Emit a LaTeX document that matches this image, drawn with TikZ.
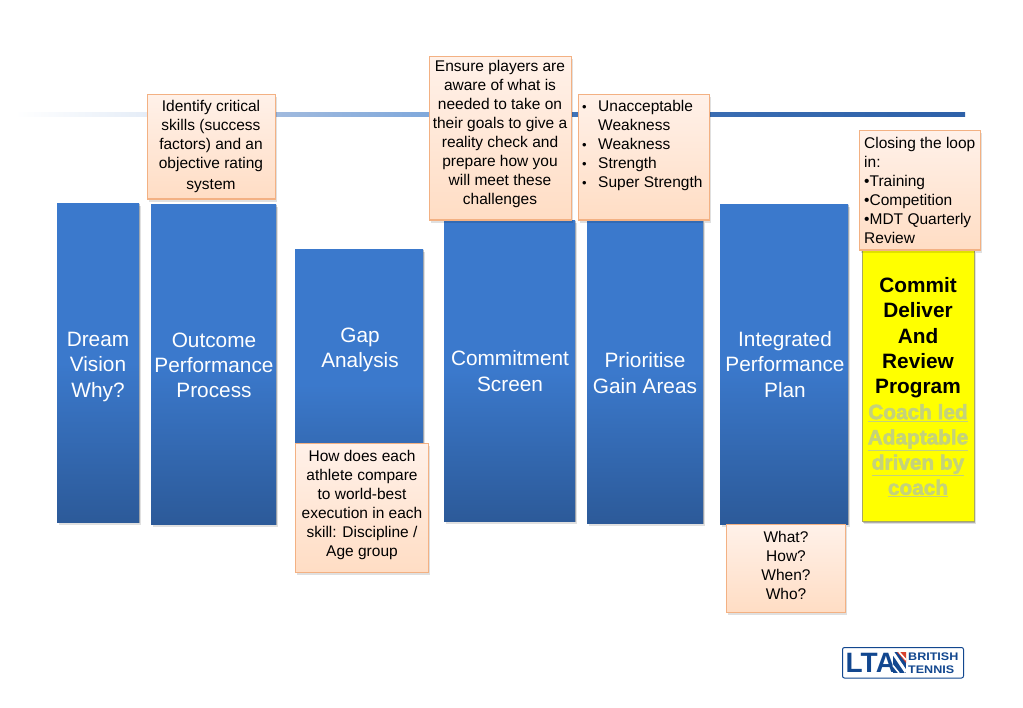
\documentclass[tikz,border=0pt]{standalone}
\usepackage{fontspec}
\setmainfont{Liberation Sans}
\usetikzlibrary{shadows,positioning}
\definecolor{pillarTop}{HTML}{3B79CC}
\definecolor{pillarBot}{HTML}{2C5A99}
\definecolor{boxTop}{HTML}{FFF1E9}
\definecolor{boxBot}{HTML}{FFDDC4}
\definecolor{boxLine}{HTML}{F3B183}
\definecolor{ltaBlue}{HTML}{12478F}
\definecolor{ltaRed}{HTML}{D8422F}
\definecolor{paleOlive}{HTML}{C4D27C}
\definecolor{pureYellow}{HTML}{FFFF00}
\definecolor{yellowEdge}{HTML}{A8A860}
\newcommand{\barfont}{\fontsize{20.8}{25.2}\selectfont}
\newcommand{\notefont}{\fontsize{15.5}{19}\selectfont}
\newcommand{\coach}[1]{\special{pdf:code 2 Tr 0.45 w 0.55 0.6 0.4 RG}\textcolor{paleOlive}{\underline{#1}}\special{pdf:code 0 Tr}}
\newcommand{\blt}{\llap{\fontsize{13}{13}\selectfont•\hspace{11.5pt}}}
\pgfdeclarehorizontalshading{rulefade}{100bp}{
  color(0bp)=(white); color(25bp)=(white);
  rgb(31.85bp)=(.90,.93,.97);
  rgb(38.7bp)=(.63,.73,.87);
  rgb(46.8bp)=(.50,.66,.86);
  rgb(54.5bp)=(.25,.45,.72);
  rgb(75bp)=(.18,.38,.66);
  rgb(100bp)=(.18,.38,.66)}
\tikzset{
  softshadow/.style={
    drop shadow={shadow xshift=1.5pt,shadow yshift=-2.5pt,fill=black,opacity=.12},
    drop shadow={shadow xshift=.6pt,shadow yshift=-1.2pt,fill=black,opacity=.22}},
  pillar/.style={anchor=north west,inner sep=0pt,top color=pillarTop,bottom color=pillarBot,middle color=pillarTop,softshadow},
  yellowbar/.style={anchor=north west,inner sep=0pt,fill=pureYellow,draw=yellowEdge,line width=.7pt,softshadow},
  notebox/.style={anchor=north west,inner sep=0pt,draw=boxLine,line width=1.1pt,top color=boxTop,bottom color=boxBot,softshadow},
  bartext/.style={align=center,text=white,font=\barfont,inner sep=0pt},
  notetext/.style={align=center,text=black,font=\notefont,inner sep=0pt,anchor=north},
  noteleft/.style={align=left,text=black,font=\notefont,inner sep=0pt,anchor=north west},
  logotext/.style={anchor=west,align=left,inner sep=0pt,text=ltaBlue,font=\fontsize{11}{13}\selectfont\bfseries},
}
\begin{document}
\begin{tikzpicture}[x=1pt,y=-1pt]
\useasboundingbox (0,0) rectangle (1023,708);
\fill[white] (0,0) rectangle (1023,708);
% long rule
\node[anchor=north west,inner sep=0pt,minimum width=950pt,minimum height=3.4pt,shade,shading=rulefade] (rule) at (15,112.5) {};
% pillars
\node[pillar,minimum width=82pt,minimum height=319pt] (p1) at (57,203) {};
\node[pillar,minimum width=125pt,minimum height=320pt] (p2) at (151,204) {};
\node[pillar,minimum width=128pt,minimum height=271pt] (p3) at (295,249) {};
\node[pillar,minimum width=131pt,minimum height=301pt] (p4) at (444,220) {};
\node[pillar,minimum width=116pt,minimum height=303pt] (p5) at (587,220) {};
\node[pillar,minimum width=128pt,minimum height=320pt] (p6) at (720,204) {};
\node[yellowbar,minimum width=112pt,minimum height=271pt] (p7) at (862,250) {};
% pillar labels
\node[bartext] (t1) at (98,367) {Dream\\Vision\\Why?};
\node[bartext] (t2) at (214,365.5) {Outcome\\Performance\\Process};
\node[bartext] (t3) at (360,350) {Gap\\Analysis};
\node[bartext] (t4) at (510,371) {Commitment\\Screen};
\node[bartext] (t5) at (645,373) {Prioritise\\Gain Areas};
\node[bartext] (t6) at (785,364.5) {Integrated\\Performance\\Plan};
\node[align=center,inner sep=0pt,font=\barfont\bfseries,anchor=north] (t7) at (918,277.5) {Commit\\Deliver\\And\\Review\\Program\\[.4pt]\coach{Coach led}\\\coach{Adaptable}\\\coach{driven by}\\\coach{coach}};
% note boxes
\node[notebox,minimum width=127.5pt,minimum height=104.5pt] (n1) at (147,94) {};
\node[notetext] (n1t) at (211,100) {Identify critical\\skills (success\\factors) and an\\objective rating\\[2pt]system};
\node[notebox,minimum width=141.5pt,minimum height=163.5pt] (n2) at (429,56) {};
\node[notetext] (n2t) at (500,60.2) {Ensure players are\\aware of what is\\needed to take on\\their goals to give a\\reality check and\\prepare how you\\will meet these\\challenges};
\node[notebox,minimum width=130.5pt,minimum height=125.5pt] (n3) at (578,94) {};
\node[noteleft] (n3t) at (598,100) {\blt Unacceptable\\Weakness\\\blt Weakness\\\blt Strength\\\blt Super Strength};
\node[notebox,minimum width=120.5pt,minimum height=119.5pt] (n4) at (859,130) {};
\node[noteleft] (n4t) at (864,137) {Closing the loop\\in:\\•Training\\•Competition\\•MDT Quarterly\\Review};
\node[notebox,minimum width=132.5pt,minimum height=128.5pt] (n5) at (295,443) {};
\node[notetext] (n5t) at (362,449.8) {How does each\\athlete compare\\to world-best\\execution in each\\skill: Discipline /\\Age group};
\node[notebox,minimum width=118.5pt,minimum height=87.5pt] (n6) at (726,524) {};
\node[notetext] (n6t) at (786,531) {What?\\How?\\When?\\Who?};
% logo
\node[anchor=north west,inner sep=0pt,minimum width=121pt,minimum height=30.5pt,draw=ltaBlue,line width=1pt,rounded corners=2pt,fill=white] (logo) at (842,647) {};
\node[anchor=west,inner sep=0pt,text=ltaBlue,font=\fontsize{28}{28}\selectfont\bfseries] (lta) at (845.5,662.5) {LTA};
\begin{scope}
\clip (892.5,652) -- (906,652) -- (906,673) -- (892.5,673) -- cycle;
\fill[ltaBlue] (892.5,652) rectangle (906,673);
\fill[ltaRed] (897,652) -- (906,652) -- (906,663) -- cycle;
\draw[white,line width=3pt] (892.5,652) -- (906,672);
\draw[white,line width=1.6pt] (899,652) -- (906,660);
\draw[white,line width=1.6pt] (892.5,665) -- (899,673);
\end{scope}
\node[logotext] (british) at (908,663) {\scalebox{1.14}[1]{BRITISH}\\\scalebox{1.14}[1]{TENNIS}};
\end{tikzpicture}
\end{document}
